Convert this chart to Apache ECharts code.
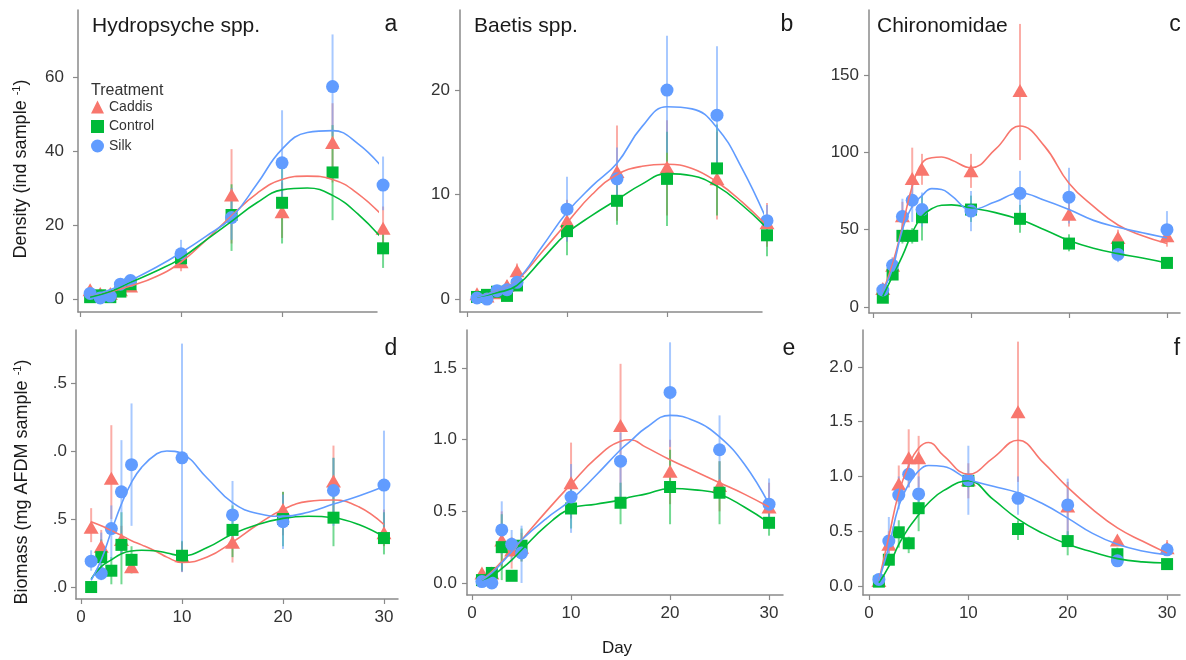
<!DOCTYPE html>
<html><head><meta charset="utf-8">
<script src="https://cdn.jsdelivr.net/npm/echarts@6.0.0/dist/echarts.min.js"></script>
<style>html,body{margin:0;padding:0;background:#fff}#chart{width:1186px;height:660px}</style>
</head><body><div id="chart"></div>
<script>
// ---------- DATA ----------
const DAYS = [1, 2, 3, 4, 5, 10, 15, 20, 25, 30];
const xTicks = [0, 10, 20, 30];
const xTickLabels = ['0', '10', '20', '30'];

// Panel a: Hydropsyche density
const aYTicks = [0, 20, 40, 60];
const aYLabels = ['0', '20', '40', '60'];
const aCaddis   = [2.5, 1.5, 1.5, 2.5, 3.5, 10.1, 28.1, 23.6, 42.3, 19.1];
const aCaddisLo = [1.5, 0.5, 0.5, 1.5, 2.5, 7.5, 15, 16.5, 31.5, 14];
const aCaddisHi = [3.5, 2.5, 2.5, 3.5, 4.5, 13, 40.5, 31.5, 52.9, 25];
const aControl   = [0.5, 1.0, 0.5, 2.0, 4.0, 11, 22.7, 26, 34.2, 13.7];
const aControlLo = [0.2, 0.5, 0.2, 1.2, 3, 9, 13, 15, 21.3, 8.4];
const aControlHi = [0.8, 1.5, 0.8, 2.8, 5, 13, 31, 36, 47, 19];
const aSilk   = [1.5, 0.3, 0.8, 4.0, 5.0, 12.2, 22.0, 36.8, 57.4, 30.8];
const aSilkLo = [0.8, 0, 0.3, 3, 4, 9, 16, 25, 44, 24];
const aSilkHi = [2.2, 0.6, 1.3, 5.5, 6.5, 16, 30, 51, 71.5, 38.5];
const aFitDays = [1, 3, 5, 7.5, 10, 12.5, 15, 17.5, 20, 22.5, 25, 27.5, 30];
const aCaddisFit  = [1, 2, 3.5, 6, 10, 16, 22.5, 28.5, 32.3, 33.2, 32.3, 28.5, 22.3];
const aControlFit = [0.5, 2, 4.5, 7.5, 11, 16, 21, 26, 29.5, 30, 28, 23, 16];
const aSilkFit    = [1, 2.5, 5, 8.5, 12.5, 17, 22, 31, 40.5, 45, 45.5, 42, 35.3];

// Panel b: Baetis density
const bYTicks = [0, 10, 20];
const bYLabels = ['0', '10', '20'];
const bCaddis   = [0.5, 0.3, 0.6, 1.3, 2.7, 7.5, 12.2, 12.6, 11.5, 7.3];
const bCaddisLo = [0.2, 0.1, 0.3, 0.8, 2.0, 5.5, 7.5, 8, 7.6, 5];
const bCaddisHi = [0.8, 0.5, 0.9, 1.8, 3.4, 9.5, 16.6, 17.1, 16, 9.2];
const bControl   = [0.2, 0.4, 0.7, 0.3, 1.3, 6.5, 9.4, 11.5, 12.5, 6.1];
const bControlLo = [0.1, 0.2, 0.4, 0.1, 0.8, 4.2, 7.1, 7, 8, 4.1];
const bControlHi = [0.3, 0.6, 1.0, 0.5, 1.8, 8.5, 12.5, 16, 16.7, 8];
const bSilk   = [0.1, 0.0, 0.8, 0.9, 1.6, 8.6, 11.5, 20.0, 17.6, 7.5];
const bSilkLo = [0, 0, 0.5, 0.5, 1.1, 5.5, 9, 14, 11, 6];
const bSilkHi = [0.2, 0.1, 1.1, 1.3, 2.1, 11.7, 14.5, 25.2, 24.2, 9];
const bFitDays = [1, 3, 5, 7.5, 10, 12.5, 15, 17.5, 20, 22.5, 25, 27.5, 30];
const bCaddisFit  = [0.2, 0.8, 1.8, 4.5, 7.3, 10, 11.9, 12.7, 12.9, 12.5, 11.2, 9.3, 7];
const bControlFit = [0.2, 0.6, 1.3, 3.8, 6.3, 8, 9.5, 11, 12, 11.8, 10.8, 9, 6.8];
const bSilkFit    = [0.2, 0.8, 1.8, 5, 8.3, 10.8, 13, 16.5, 18.4, 18.2, 16.4, 12.5, 7.5];

// Panel c: Chironomidae density
const cYTicks = [0, 50, 100, 150];
const cYLabels = ['0', '50', '100', '150'];
const cCaddis   = [12, 27, 59, 83, 89, 88, 140, 60, 45, 46];
const cCaddisLo = [9, 22, 50, 64, 79, 77, 95, 52, 40, 39];
const cCaddisHi = [15, 32, 68, 103, 99, 99, 183, 68, 50, 52];
const cControl   = [6, 21, 46, 46, 58, 63, 57, 41, 38.5, 28.5];
const cControlLo = [4, 18, 41, 41, 43, 55, 48, 36, 34, 26];
const cControlHi = [8, 24, 51, 51, 72, 72, 66, 47, 44, 31];
const cSilk   = [11, 27, 58.5, 69, 63, 62, 73.5, 71, 34, 50];
const cSilkLo = [8, 22, 49, 55, 52, 49, 62, 54, 29, 43];
const cSilkHi = [14, 32, 70, 82, 74, 75, 88, 90, 40, 62];
const cFitDays = [1, 2, 3, 4, 5, 6, 7, 8, 10, 12.5, 15, 17.5, 20, 22.5, 25, 27.5, 30];
const cCaddisFit  = [10, 28, 52, 78, 93, 96.5, 97, 95, 90, 102, 117, 104, 80, 65, 53, 46, 41];
const cControlFit = [7, 20, 33, 48, 58.6, 63.5, 65.8, 66, 64, 61, 56.5, 50, 43, 38, 34.5, 31.7, 28.5];
const cSilkFit    = [10, 25, 50, 65, 72, 76.5, 76, 72, 63, 68, 73.7, 69, 63, 56, 51.5, 48, 44.6];

// Panel d: Hydropsyche biomass
const dYTicks = [0, 0.5, 1.0, 1.5];
const dYLabels = ['.0', '.5', '.0', '.5'];
const dCaddis   = [0.44, 0.30, 0.80, 0.35, 0.15, 0.23, 0.33, 0.57, 0.78, 0.40];
const dCaddisLo = [0.33, 0.20, 0.50, 0.25, 0.12, 0.11, 0.18, 0.38, 0.50, 0.30];
const dCaddisHi = [0.58, 0.42, 1.19, 0.45, 0.20, 0.33, 0.45, 0.70, 1.04, 0.57];
const dControl   = [0.0, 0.22, 0.12, 0.31, 0.20, 0.23, 0.42, 0.50, 0.51, 0.36];
const dControlLo = [0.0, 0.10, 0.02, 0.02, 0.10, 0.12, 0.22, 0.30, 0.30, 0.24];
const dControlHi = [0.0, 0.35, 0.22, 0.55, 0.30, 0.34, 0.60, 0.70, 0.95, 0.55];
const dSilk   = [0.19, 0.10, 0.43, 0.70, 0.90, 0.95, 0.53, 0.48, 0.71, 0.75];
const dSilkLo = [0.12, 0.05, 0.20, 0.25, 0.45, 0.11, 0.32, 0.28, 0.45, 0.35];
const dSilkHi = [0.27, 0.40, 0.60, 1.08, 1.35, 1.79, 0.78, 0.68, 0.95, 1.15];
const dFitDays = [1, 2, 3, 4, 5, 6, 7.5, 8.5, 10, 12.5, 15, 17.5, 20, 22.5, 25, 27.5, 30];
const dCaddisFit  = [0.48, 0.45, 0.415, 0.38, 0.34, 0.31, 0.26, 0.22, 0.18, 0.22, 0.33, 0.46, 0.57, 0.63, 0.64, 0.59, 0.46];
const dControlFit = [0.06, 0.15, 0.2, 0.245, 0.265, 0.27, 0.265, 0.25, 0.23, 0.29, 0.39, 0.46, 0.505, 0.52, 0.51, 0.46, 0.37];
const dSilkFit    = [0.05, 0.2, 0.41, 0.61, 0.77, 0.88, 0.98, 1.0, 0.98, 0.80, 0.62, 0.54, 0.52, 0.55, 0.61, 0.67, 0.74];

// Panel e: Baetis biomass
const eYTicks = [0, 0.5, 1.0, 1.5];
const eYLabels = ['0.0', '0.5', '1.0', '1.5'];
const eCaddis   = [0.07, 0.07, 0.30, 0.23, 0.25, 0.70, 1.10, 0.78, 0.68, 0.53];
const eCaddisLo = [0.04, 0.04, 0.10, 0.10, 0.15, 0.45, 0.60, 0.55, 0.50, 0.40];
const eCaddisHi = [0.10, 0.10, 0.50, 0.32, 0.35, 0.98, 1.53, 1.00, 0.85, 0.70];
const eControl   = [0.02, 0.07, 0.25, 0.05, 0.26, 0.52, 0.56, 0.67, 0.63, 0.42];
const eControlLo = [0.01, 0.04, 0.02, 0.03, 0.15, 0.38, 0.41, 0.41, 0.41, 0.33];
const eControlHi = [0.03, 0.10, 0.48, 0.07, 0.38, 0.70, 0.70, 0.93, 0.85, 0.50];
const eSilk   = [0.01, 0.0, 0.37, 0.27, 0.21, 0.60, 0.85, 1.33, 0.93, 0.55];
const eSilkLo = [0.0, 0.0, 0.20, 0.15, 0.0, 0.35, 0.55, 0.95, 0.70, 0.40];
const eSilkHi = [0.02, 0.01, 0.57, 0.37, 0.40, 0.83, 1.05, 1.68, 1.17, 0.73];
const eFitDays = [1, 2, 3, 4, 5, 7.5, 10, 12.5, 15, 16, 17.5, 20, 22.5, 25, 27.5, 30];
const eCaddisFit  = [0.02, 0.08, 0.15, 0.22, 0.3, 0.5, 0.69, 0.87, 0.99, 1.0, 0.95, 0.86, 0.78, 0.7, 0.62, 0.53];
const eControlFit = [0.02, 0.05, 0.1, 0.16, 0.23, 0.4, 0.52, 0.55, 0.58, 0.6, 0.62, 0.66, 0.65, 0.62, 0.53, 0.42];
const eSilkFit    = [0.02, 0.07, 0.14, 0.22, 0.3, 0.45, 0.58, 0.75, 0.93, 0.99, 1.08, 1.17, 1.13, 1.02, 0.83, 0.55];

// Panel f: Chironomidae biomass
const fYTicks = [0, 0.5, 1.0, 1.5, 2.0];
const fYLabels = ['0.0', '0.5', '1.0', '1.5', '2.0'];
const fCaddis   = [0.05, 0.38, 0.93, 1.17, 1.17, 0.97, 1.59, 0.73, 0.42, 0.35];
const fCaddisLo = [0.03, 0.30, 0.75, 0.90, 0.90, 0.80, 0.95, 0.40, 0.38, 0.30];
const fCaddisHi = [0.07, 0.50, 1.10, 1.43, 1.37, 1.12, 2.23, 0.95, 0.45, 0.42];
const fControl   = [0.04, 0.24, 0.49, 0.39, 0.71, 0.96, 0.52, 0.41, 0.29, 0.20];
const fControlLo = [0.02, 0.18, 0.35, 0.30, 0.50, 0.90, 0.42, 0.28, 0.25, 0.18];
const fControlHi = [0.06, 0.30, 0.60, 0.45, 0.85, 1.02, 0.60, 0.50, 0.35, 0.22];
const fSilk   = [0.06, 0.41, 0.83, 1.02, 0.84, 0.97, 0.80, 0.74, 0.23, 0.33];
const fSilkLo = [0.03, 0.30, 0.70, 0.90, 0.65, 0.65, 0.65, 0.45, 0.20, 0.28];
const fSilkHi = [0.09, 0.63, 1.00, 1.15, 1.00, 1.28, 1.00, 0.98, 0.28, 0.38];
const fFitDays = [1, 2, 3, 4, 5, 6, 7.5, 10, 12.5, 15, 17.5, 20, 22.5, 25, 27.5, 30];
const fCaddisFit  = [0.05, 0.45, 0.85, 1.1, 1.26, 1.31, 1.19, 1.02, 1.17, 1.33, 1.13, 0.9, 0.7, 0.53, 0.41, 0.3];
const fControlFit = [0.03, 0.18, 0.38, 0.53, 0.65, 0.76, 0.87, 0.96, 0.79, 0.61, 0.48, 0.38, 0.31, 0.25, 0.22, 0.21];
const fSilkFit    = [0.05, 0.36, 0.73, 0.93, 1.05, 1.1, 1.09, 0.975, 0.91, 0.85, 0.75, 0.62, 0.48, 0.38, 0.32, 0.285];

const TREATMENTS = ['Caddis', 'Control', 'Silk'];

// ---------- STYLE / LAYOUT ----------
const FONT = '"Liberation Sans", Arial, Helvetica, sans-serif';
const COLORS = { Caddis: '#F8766D', Control: '#00BA38', Silk: '#619CFF' };
const BARCOLORS = { Caddis: 'rgba(248,118,109,0.6)', Control: 'rgba(0,186,56,0.55)', Silk: 'rgba(97,156,255,0.55)' };
const SYMBOLS = { Caddis: 'triangle', Control: 'rect', Silk: 'circle' };
const SIZES = { Caddis: [15, 13], Control: 12, Silk: 13 };
const AXIS_COLOR = '#8a8a8a';
const LABEL_COLOR = '#333333';

const panels = [
  { box: { left: 78, top: 10, width: 299, height: 302 }, x: [-0.2, 29.4], y: [-3.51, 78.1], yTicks: aYTicks, yLabels: aYLabels, xLabels: false, yMargin: 14,
    pts: { Caddis: [aCaddis, aCaddisLo, aCaddisHi], Control: [aControl, aControlLo, aControlHi], Silk: [aSilk, aSilkLo, aSilkHi] },
    fitDays: aFitDays, fits: { Caddis: aCaddisFit, Control: aControlFit, Silk: aSilkFit } },
  { box: { left: 460, top: 10, width: 302, height: 302 }, x: [-0.7, 29.5], y: [-1.24, 27.66], yTicks: bYTicks, yLabels: bYLabels, xLabels: false, yMargin: 10,
    pts: { Caddis: [bCaddis, bCaddisLo, bCaddisHi], Control: [bControl, bControlLo, bControlHi], Silk: [bSilk, bSilkLo, bSilkHi] },
    fitDays: bFitDays, fits: { Caddis: bCaddisFit, Control: bControlFit, Silk: bSilkFit } },
  { box: { left: 869, top: 10, width: 311, height: 303 }, x: [-0.41, 31.33], y: [-3.88, 192], yTicks: cYTicks, yLabels: cYLabels, xLabels: false, yMargin: 10,
    pts: { Caddis: [cCaddis, cCaddisLo, cCaddisHi], Control: [cControl, cControlLo, cControlHi], Silk: [cSilk, cSilkLo, cSilkHi] },
    fitDays: cFitDays, fits: { Caddis: cCaddisFit, Control: cControlFit, Silk: cSilkFit } },
  { box: { left: 76, top: 330, width: 322, height: 269 }, x: [-0.5, 31.39], y: [-0.088, 1.89], yTicks: dYTicks, yLabels: dYLabels, xLabels: true, yMargin: 9,
    pts: { Caddis: [dCaddis, dCaddisLo, dCaddisHi], Control: [dControl, dControlLo, dControlHi], Silk: [dSilk, dSilkLo, dSilkHi] },
    fitDays: dFitDays, fits: { Caddis: dCaddisFit, Control: dControlFit, Silk: dSilkFit } },
  { box: { left: 467, top: 330, width: 316, height: 265 }, x: [-0.51, 31.41], y: [-0.084, 1.766], yTicks: eYTicks, yLabels: eYLabels, xLabels: true, yMargin: 10,
    pts: { Caddis: [eCaddis, eCaddisLo, eCaddisHi], Control: [eControl, eControlLo, eControlHi], Silk: [eSilk, eSilkLo, eSilkHi] },
    fitDays: eFitDays, fits: { Caddis: eCaddisFit, Control: eControlFit, Silk: eSilkFit } },
  { box: { left: 863, top: 330, width: 317, height: 265 }, x: [-0.6, 31.3], y: [-0.082, 2.336], yTicks: fYTicks, yLabels: fYLabels, xLabels: true, yMargin: 10,
    pts: { Caddis: [fCaddis, fCaddisLo, fCaddisHi], Control: [fControl, fControlLo, fControlHi], Silk: [fSilk, fSilkLo, fSilkHi] },
    fitDays: fFitDays, fits: { Caddis: fCaddisFit, Control: fControlFit, Silk: fSilkFit } }
];

const grids = [], xAxes = [], yAxes = [], series = [];

function labelFor(ticks, labels) {
  return function (v) {
    const k = ticks.findIndex(t => Math.abs(t - v) < 1e-9);
    return k >= 0 ? labels[k] : '';
  };
}

panels.forEach((p, i) => {
  grids.push(Object.assign({ containLabel: false, outerBoundsMode: 'none' }, p.box));
  xAxes.push({
    type: 'value', gridIndex: i, min: p.x[0], max: p.x[1],
    axisLine: { show: true, onZero: false, lineStyle: { color: AXIS_COLOR, width: 1.5 } },
    axisTick: { show: true, length: 5, customValues: xTicks, lineStyle: { color: AXIS_COLOR, width: 1.2 } },
    axisLabel: { show: p.xLabels, customValues: xTicks, formatter: labelFor(xTicks, xTickLabels),
      fontSize: 17, color: LABEL_COLOR, fontFamily: FONT, margin: 10 },
    splitLine: { show: false }
  });
  yAxes.push({
    type: 'value', gridIndex: i, min: p.y[0], max: p.y[1],
    axisLine: { show: true, onZero: false, lineStyle: { color: AXIS_COLOR, width: 1.5 } },
    axisTick: { show: true, length: 5, customValues: p.yTicks, lineStyle: { color: AXIS_COLOR, width: 1.2 } },
    axisLabel: { show: true, customValues: p.yTicks, formatter: labelFor(p.yTicks, p.yLabels),
      fontSize: 17, color: LABEL_COLOR, fontFamily: FONT, margin: p.yMargin },
    splitLine: { show: false }
  });
  TREATMENTS.forEach(name => {
    const [v, lo, hi] = p.pts[name];
    series.push({
      type: 'scatter', name, xAxisIndex: i, yAxisIndex: i, clip: false, z: 4,
      symbol: SYMBOLS[name], symbolSize: SIZES[name],
      itemStyle: { color: COLORS[name], opacity: 1 },
      emphasis: { disabled: true },
      data: DAYS.map((d, k) => [d, v[k]])
    });
  });
  TREATMENTS.forEach(name => {
    const [v, lo, hi] = p.pts[name];
    series.push({
      type: 'custom', name, xAxisIndex: i, yAxisIndex: i, z: 2, silent: true, clip: false,
      encode: { x: 0, y: [1, 2] },
      data: DAYS.map((d, k) => [d, lo[k], hi[k]]),
      renderItem: function (params, api) {
        const a = api.coord([api.value(0), api.value(1)]);
        const b = api.coord([api.value(0), api.value(2)]);
        return { type: 'line', shape: { x1: a[0], y1: a[1], x2: b[0], y2: b[1] },
          style: { stroke: BARCOLORS[name], lineWidth: 2 } };
      }
    });
    series.push({
      type: 'line', name, xAxisIndex: i, yAxisIndex: i, z: 5, silent: true, clip: false,
      smooth: 0.45, showSymbol: false, symbol: 'none',
      lineStyle: { color: COLORS[name], width: 1.6 },
      data: p.fitDays.map((d, k) => [d, p.fits[name][k]])
    });
  });
});

function txt(x, y, text, size, align, extra) {
  return Object.assign({
    type: 'text', x: x, y: y, silent: true, z: 10,
    style: Object.assign({ text: text, fontSize: size, fontFamily: FONT, fill: '#1a1a1a',
      align: align, textAlign: align, verticalAlign: 'middle', textVerticalAlign: 'middle' }, (extra && extra.style) || {})
  }, extra && extra.el ? extra.el : {});
}

const supRich = { sup: { fontSize: 11, padding: [0, 0, 9, 0], fill: '#1a1a1a', fontFamily: FONT } };

const graphics = [
  txt(92, 26, 'Hydropsyche spp.', 21, 'left'),
  txt(474, 26, 'Baetis spp.', 21, 'left'),
  txt(877, 26, 'Chironomidae', 21, 'left'),
  txt(391, 25, 'a', 23, 'center'),
  txt(787, 25, 'b', 23, 'center'),
  txt(1175, 25, 'c', 23, 'center'),
  txt(391, 349, 'd', 23, 'center'),
  txt(789, 349, 'e', 23, 'center'),
  txt(1177, 349, 'f', 23, 'center'),
  txt(91, 91, 'Treatment', 16, 'left', { style: { fill: '#333' } }),
  txt(617, 648, 'Day', 17, 'center'),
  txt(21, 169, 'Density (ind sample {sup|-1})', 18, 'center', { style: { rich: supRich }, el: { rotation: Math.PI / 2 } }),
  txt(22, 482, 'Biomass (mg AFDM sample {sup|-1})', 18, 'center', { style: { rich: supRich }, el: { rotation: Math.PI / 2 } })
];

const chart = echarts.init(document.getElementById('chart'), null, { renderer: 'canvas' });
chart.setOption({
  backgroundColor: '#ffffff',
  animation: false,
  textStyle: { fontFamily: FONT },
  grid: grids,
  xAxis: xAxes,
  yAxis: yAxes,
  legend: {
    orient: 'vertical', left: 91, top: 100, padding: 0, itemWidth: 13, itemHeight: 13, itemGap: 5.5,
    textStyle: { fontSize: 14, color: '#333', fontFamily: FONT, lineHeight: 13 },
    data: TREATMENTS.map(n => ({ name: n, icon: SYMBOLS[n], itemStyle: { color: COLORS[n] } }))
  },
  graphic: { elements: graphics },
  series: series
});
</script></body></html>
